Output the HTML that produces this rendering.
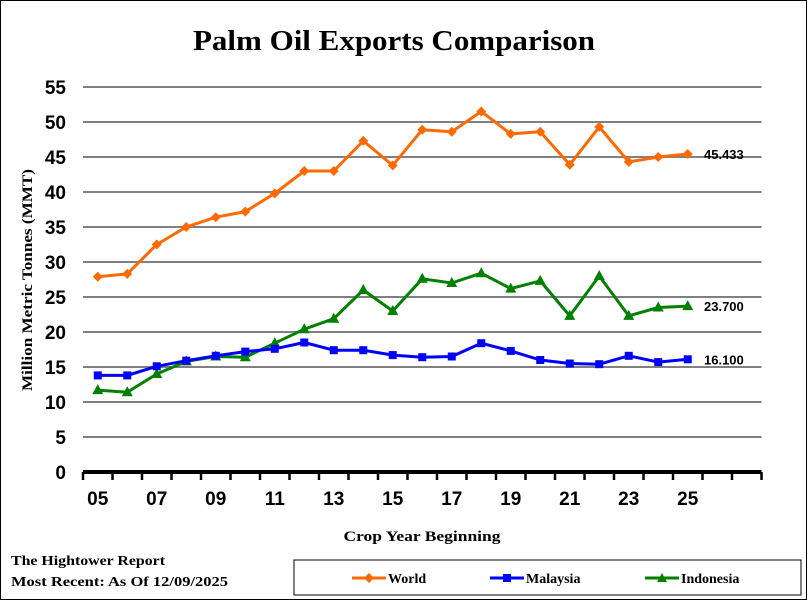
<!DOCTYPE html>
<html><head><meta charset="utf-8"><style>
body{margin:0;background:#fff}
svg{display:block;font-family:"Liberation Sans Narrow","Liberation Sans",sans-serif;font-weight:bold}
</style></head><body>
<svg id="c" width="808" height="601" viewBox="0 0 808 601">
<rect x="0.5" y="0.5" width="806" height="599" fill="#fff" stroke="#000"/>
<text x="394" y="50" text-anchor="middle" font-size="28" font-family="Liberation Serif,serif" textLength="402" lengthAdjust="spacingAndGlyphs">Palm Oil Exports Comparison</text>
<g id="grid"></g><g id="axes"></g><g id="series"></g>
<text transform="translate(32,280) rotate(-90)" text-anchor="middle" font-size="15" font-family="Liberation Serif,serif" textLength="222" lengthAdjust="spacingAndGlyphs">Million Metric Tonnes (MMT)</text>
<text x="422" y="541" text-anchor="middle" font-size="15" font-family="Liberation Serif,serif" textLength="157" lengthAdjust="spacingAndGlyphs">Crop Year Beginning</text>
<text x="11" y="565" font-size="14" font-family="Liberation Serif,serif" textLength="154" lengthAdjust="spacingAndGlyphs">The Hightower Report</text>
<text x="11" y="586" font-size="14" font-family="Liberation Serif,serif" textLength="217" lengthAdjust="spacingAndGlyphs">Most Recent: As Of 12/09/2025</text>
<g>
<rect x="294" y="560" width="507" height="35" fill="#fff" stroke="#000"/>
<g><line x1="352" y1="578" x2="386" y2="578" stroke="#ff6a00" stroke-width="3"/><path d="M369 573 L374 578 L369 583 L364 578Z" fill="#ff6a00"/><text x="388" y="583" font-size="14" font-family="Liberation Serif,serif">World</text></g>
<g><line x1="490" y1="578" x2="524" y2="578" stroke="#0000ff" stroke-width="3"/><rect x="503" y="574" width="8" height="8" fill="#0000ff"/><text x="526" y="583" font-size="14" font-family="Liberation Serif,serif">Malaysia</text></g>
<g><line x1="645" y1="578" x2="679" y2="578" stroke="#008000" stroke-width="3"/><path d="M662 573 L667 582 L657 582Z" fill="#008000"/><text x="681" y="583" font-size="14" font-family="Liberation Serif,serif">Indonesia</text></g>
</g>
</svg>
<script>
const years=["05","06","07","08","09","10","11","12","13","14","15","16","17","18","19","20","21","22","23","24","25"];
const xLabels=["05","07","09","11","13","15","17","19","21","23","25"];
const yTicks=[0,5,10,15,20,25,30,35,40,45,50,55];
const world=[27.9,28.3,32.5,35.0,36.4,37.2,39.8,43.0,43.0,47.3,43.8,48.9,48.6,51.5,48.3,48.6,43.9,49.3,44.3,45.0,45.433];
const malaysia=[13.8,13.8,15.1,15.9,16.6,17.2,17.6,18.5,17.4,17.4,16.7,16.4,16.5,18.4,17.3,16.0,15.5,15.4,16.6,15.7,16.1];
const indonesia=[11.7,11.4,14.0,15.8,16.5,16.4,18.4,20.4,21.9,26.0,23.0,27.6,27.0,28.4,26.2,27.3,22.3,28.0,22.3,23.5,23.7];
const NS="http://www.w3.org/2000/svg";
const X0=83,STEP=29.5,NCAT=23,Y0=472,YPX=7;
const xs=i=>X0+(i+0.5)*STEP, ys=v=>Y0-v*YPX;
function mk(t,a,p){const e=document.createElementNS(NS,t);for(const k in a)e.setAttribute(k,a[k]);p.appendChild(e);return e;}
const grid=document.getElementById('grid'),axes=document.getElementById('axes'),ser=document.getElementById('series');
yTicks.forEach(v=>{
  if(v>0){const l=mk('line',{x1:X0,x2:X0+NCAT*STEP,y1:ys(v),y2:ys(v),stroke:'#808080','stroke-width':2},grid);
  
  }
  const t=mk('text',{x:66,y:ys(v)+7,'text-anchor':'end','font-size':19},axes);t.textContent=v;
  
  
});
const ax=mk('line',{x1:X0,x2:X0+NCAT*STEP,y1:Y0,y2:Y0,stroke:'#000','stroke-width':4},axes);


for(let i=0;i<=NCAT;i++){mk('line',{x1:X0+i*STEP,x2:X0+i*STEP,y1:Y0,y2:Y0+8,stroke:'#000','stroke-width':2.5},axes);}
xLabels.forEach(lb=>{const i=years.indexOf(lb);const t=mk('text',{x:xs(i),y:505,'text-anchor':'middle','font-size':19},axes);t.textContent=lb;
  
  });
function draw(data,color,shape,name){
  const g=mk('g',{},ser);
  
  
  mk('polyline',{points:data.map((v,i)=>xs(i)+','+ys(v)).join(' '),fill:'none',stroke:color,'stroke-width':3,'stroke-linejoin':'round'},g);
  data.forEach((v,i)=>{const x=xs(i),y=ys(v);let m;
    if(shape==='d')m=mk('path',{d:`M${x} ${y-5}L${x+5} ${y}L${x} ${y+5}L${x-5} ${y}Z`,fill:color},g);
    else if(shape==='s')m=mk('rect',{x:x-4,y:y-4,width:8,height:8,fill:color},g);
    else m=mk('path',{d:`M${x} ${y-6}L${x+5.5} ${y+4}L${x-5.5} ${y+4}Z`,fill:color},g);
    
    });
  const last=data[data.length-1];
  const t=mk('text',{x:704,y:ys(last)+5,'font-size':13,fill:'#000'},g);t.textContent=last.toFixed(3);
  
  
}
draw(world,'#ff6a00','d','world');
draw(indonesia,'#008000','t','indonesia');
draw(malaysia,'#0000ff','s','malaysia');
</script>
</body></html>
